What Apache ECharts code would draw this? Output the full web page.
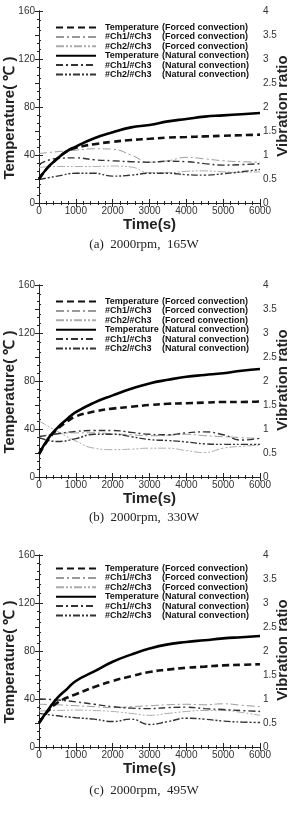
<!DOCTYPE html>
<html>
<head>
<meta charset="utf-8">
<script src="https://cdn.jsdelivr.net/npm/echarts@6/dist/echarts.min.js"></script>
<style>
  html, body { margin: 0; padding: 0; background: #fff; }
  #chart { width: 297px; height: 817px; }
</style>
</head>
<body>
<div id="chart"></div>
<script>
// time axis (s)
var timeTemp = [0, 250, 500, 750, 1000, 1500, 2000, 2500, 3000, 3500, 4000, 4500, 5000, 5500, 6000];
var timeVib = [0, 500, 1000, 1500, 2000, 2500, 3000, 3500, 4000, 4500, 5000, 5500, 6000];

var seriesNames = [
  "Temperature (Forced convection)",
  "#Ch1/#Ch3 (Forced convection)",
  "#Ch2/#Ch3 (Forced convection)",
  "Temperature (Natural convection)",
  "#Ch1/#Ch3 (Natural convection)",
  "#Ch2/#Ch3 (Natural convection)"
];
var captions = ["(a)  2000rpm,  165W", "(b)  2000rpm,  330W", "(c)  2000rpm,  495W"];

// (a) 165W
var tempForcedA = [20, 30, 37, 43, 46, 49, 51, 52.5, 53.5, 54.5, 55, 55.5, 56, 56.5, 57];
var tempNaturalA = [20, 30, 37, 43, 47, 54, 59, 63, 65, 68, 70, 72, 73, 74, 75];
var ch1ForcedA = [1.03, 1.07, 1.1, 1.13, 1.12, 1.0, 0.85, 0.88, 0.95, 0.92, 0.88, 0.86, 0.85];
var ch2ForcedA = [0.74, 0.76, 0.76, 0.76, 0.77, 0.75, 0.63, 0.63, 0.66, 0.67, 0.65, 0.64, 0.65];
var ch1NaturalA = [0.8, 0.93, 0.94, 0.9, 0.88, 0.86, 0.85, 0.87, 0.86, 0.82, 0.79, 0.8, 0.82];
var ch2NaturalA = [0.49, 0.56, 0.62, 0.62, 0.56, 0.58, 0.62, 0.62, 0.59, 0.58, 0.61, 0.65, 0.7];

// (b) 330W
var tempForcedB = [19, 31, 40, 46, 50.5, 54.5, 57, 58.5, 60, 61, 61.5, 62, 62.5, 62.5, 63];
var tempNaturalB = [19, 32, 41, 48, 54, 62, 68, 73.5, 78, 81, 83.5, 85, 86.5, 88.5, 90];
var ch1ForcedB = [0.85, 0.9, 0.92, 0.92, 0.9, 0.88, 0.86, 0.87, 0.89, 0.86, 0.84, 0.82, 0.8];
var ch2ForcedB = [1.17, 0.95, 0.75, 0.6, 0.57, 0.58, 0.6, 0.6, 0.55, 0.51, 0.6, 0.64, 0.66];
var ch1NaturalB = [0.84, 0.9, 0.95, 0.97, 0.97, 0.93, 0.89, 0.88, 0.92, 0.94, 0.88, 0.77, 0.81];
var ch2NaturalB = [0.82, 0.74, 0.8, 0.89, 0.89, 0.84, 0.78, 0.76, 0.73, 0.69, 0.68, 0.68, 0.68];

// (c) 495W
var tempForcedC = [20, 30, 37, 41, 44, 50, 55, 59, 62.5, 64.5, 66, 67, 68, 68.5, 69];
var tempNaturalC = [20, 31, 41, 48, 55, 63, 71, 77, 82, 85.5, 87.5, 89, 90.5, 91.5, 92.5];
var ch1ForcedC = [0.89, 0.88, 0.86, 0.84, 0.82, 0.84, 0.86, 0.88, 0.89, 0.88, 0.9, 0.87, 0.84];
var ch2ForcedC = [0.75, 0.76, 0.77, 0.76, 0.74, 0.7, 0.66, 0.7, 0.74, 0.76, 0.76, 0.72, 0.66];
var ch1NaturalC = [1.0, 0.98, 0.94, 0.89, 0.84, 0.81, 0.8, 0.82, 0.83, 0.8, 0.78, 0.76, 0.74];
var ch2NaturalC = [0.7, 0.65, 0.61, 0.58, 0.53, 0.58, 0.47, 0.53, 0.6, 0.58, 0.54, 0.52, 0.51];

var panels = [
  [tempForcedA, ch1ForcedA, ch2ForcedA, tempNaturalA, ch1NaturalA, ch2NaturalA],
  [tempForcedB, ch1ForcedB, ch2ForcedB, tempNaturalB, ch1NaturalB, ch2NaturalB],
  [tempForcedC, ch1ForcedC, ch2ForcedC, tempNaturalC, ch1NaturalC, ch2NaturalC]
];

// layout of each panel
var gridTops = [11, 285, 555];
var gridH = 192;
var legendTops = [18, 292, 559];
var captionY = [245, 518, 791];

var font = "'Liberation Sans', Arial, sans-serif";
var lineStyles = [
  { color: "#111", width: 2.6, type: [7, 4] },
  { color: "#999", width: 1, type: [8, 3, 2, 3] },
  { color: "#aaa", width: 1, type: [8, 2, 2, 2, 2, 2] },
  { color: "#000", width: 2.6, type: "solid" },
  { color: "#333", width: 1.4, type: [7, 3, 2, 3] },
  { color: "#333", width: 1.4, type: [7, 2, 2, 2, 2, 2] }
];

function pairs(xs, ys) {
  return xs.map(function (x, i) { return [x, ys[i]]; });
}

var chart = echarts.init(document.getElementById("chart"));

var grid = [], xAxis = [], yAxis = [], series = [], legend = [], graphic = [];
var axisLine = { show: true, lineStyle: { color: "#222", width: 1 } };
var label = { color: "#333", fontSize: 10, fontFamily: font, formatter: function (v) { return String(v); } };
var tick = { inside: true, length: 4, lineStyle: { color: "#222" } };

gridTops.forEach(function (top, p) {
  grid.push({ left: 39, width: 221, top: top, height: gridH });

  // bottom axis
  xAxis.push({
    gridIndex: p, type: "value", min: 0, max: 6000, interval: 1000,
    axisLine: axisLine, axisTick: tick,
    minorTick: { show: true, splitNumber: 5, length: 2, lineStyle: { color: "#222" } },
    axisLabel: Object.assign({ margin: 3 }, label),
    splitLine: { show: false },
    name: "Time(s)", nameLocation: "middle", nameGap: 9,
    nameTextStyle: { fontSize: 15, fontWeight: "bold", color: "#222", fontFamily: font }
  });
  // top mirror axis
  xAxis.push({
    gridIndex: p, type: "value", position: "top", min: 0, max: 6000, interval: 1000,
    axisLine: axisLine, axisTick: tick,
    minorTick: { show: true, splitNumber: 5, length: 2, lineStyle: { color: "#222" } },
    axisLabel: { show: false },
    splitLine: { show: false }
  });
  // temperature
  yAxis.push({
    gridIndex: p, type: "value", min: 0, max: 160, interval: 40,
    axisLine: axisLine, axisTick: tick,
    minorTick: { show: true, splitNumber: 5, length: 2, lineStyle: { color: "#222" } },
    axisLabel: Object.assign({ margin: 4 }, label),
    splitLine: { show: false }
  });
  // vibration ratio
  yAxis.push({
    gridIndex: p, type: "value", position: "right", min: 0, max: 4, interval: 0.5,
    axisLine: axisLine, axisTick: tick,
    minorTick: { show: true, splitNumber: 3, length: 2, lineStyle: { color: "#222" } },
    axisLabel: Object.assign({ margin: 3 }, label),
    splitLine: { show: false }
  });

  panels[p].forEach(function (vals, k) {
    var isTemp = k === 0 || k === 3;
    series.push({
      name: seriesNames[k],
      type: "line",
      xAxisIndex: p * 2,
      yAxisIndex: isTemp ? p * 2 : p * 2 + 1,
      data: pairs(isTemp ? timeTemp : timeVib, vals),
      smooth: true,
      symbol: "none",
      showSymbol: false,
      z: isTemp ? 5 : 3,
      lineStyle: lineStyles[k],
      itemStyle: { color: lineStyles[k].color }
    });
  });

  legend.push({
    data: seriesNames,
    orient: "vertical",
    left: 50,
    top: legendTops[p],
    itemWidth: 40,
    itemHeight: 10,
    itemGap: 0.4,
    selectedMode: false,
    itemStyle: { opacity: 0 },
    formatter: function (name) {
      var i = name.indexOf(" (");
      return "{a|" + name.slice(0, i) + "}{b|" + name.slice(i + 1) + "}";
    },
    textStyle: {
      padding: [0, 0, 0, 4],
      rich: {
        a: { width: 57, fontSize: 9, fontWeight: "bold", color: "#111", fontFamily: font, lineHeight: 10 },
        b: { fontSize: 9, fontWeight: "bold", color: "#111", fontFamily: font, lineHeight: 10 }
      }
    }
  });

  graphic.push({
    type: "text", x: 10, y: top + gridH / 2 + 11, rotation: Math.PI / 2,
    style: { text: "Temperature( \u2103 )", fontSize: 15, fontWeight: "bold", fill: "#222",
      fontFamily: font, align: "center", verticalAlign: "middle" }
  });
  graphic.push({
    type: "text", x: 283, y: top + gridH / 2 - 1, rotation: Math.PI / 2,
    style: { text: "Vibration ratio", fontSize: 15, fontWeight: "bold", fill: "#222",
      fontFamily: font, align: "center", verticalAlign: "middle" }
  });
  graphic.push({
    type: "text", x: 144, y: captionY[p],
    style: { text: captions[p], fontSize: 13, fill: "#222",
      fontFamily: "'Liberation Serif', 'Times New Roman', serif", align: "center", verticalAlign: "middle" }
  });
});

chart.setOption({
  animation: false,
  backgroundColor: "#fff",
  grid: grid,
  xAxis: xAxis,
  yAxis: yAxis,
  legend: legend,
  series: series,
  graphic: graphic
});
</script>
</body>
</html>
